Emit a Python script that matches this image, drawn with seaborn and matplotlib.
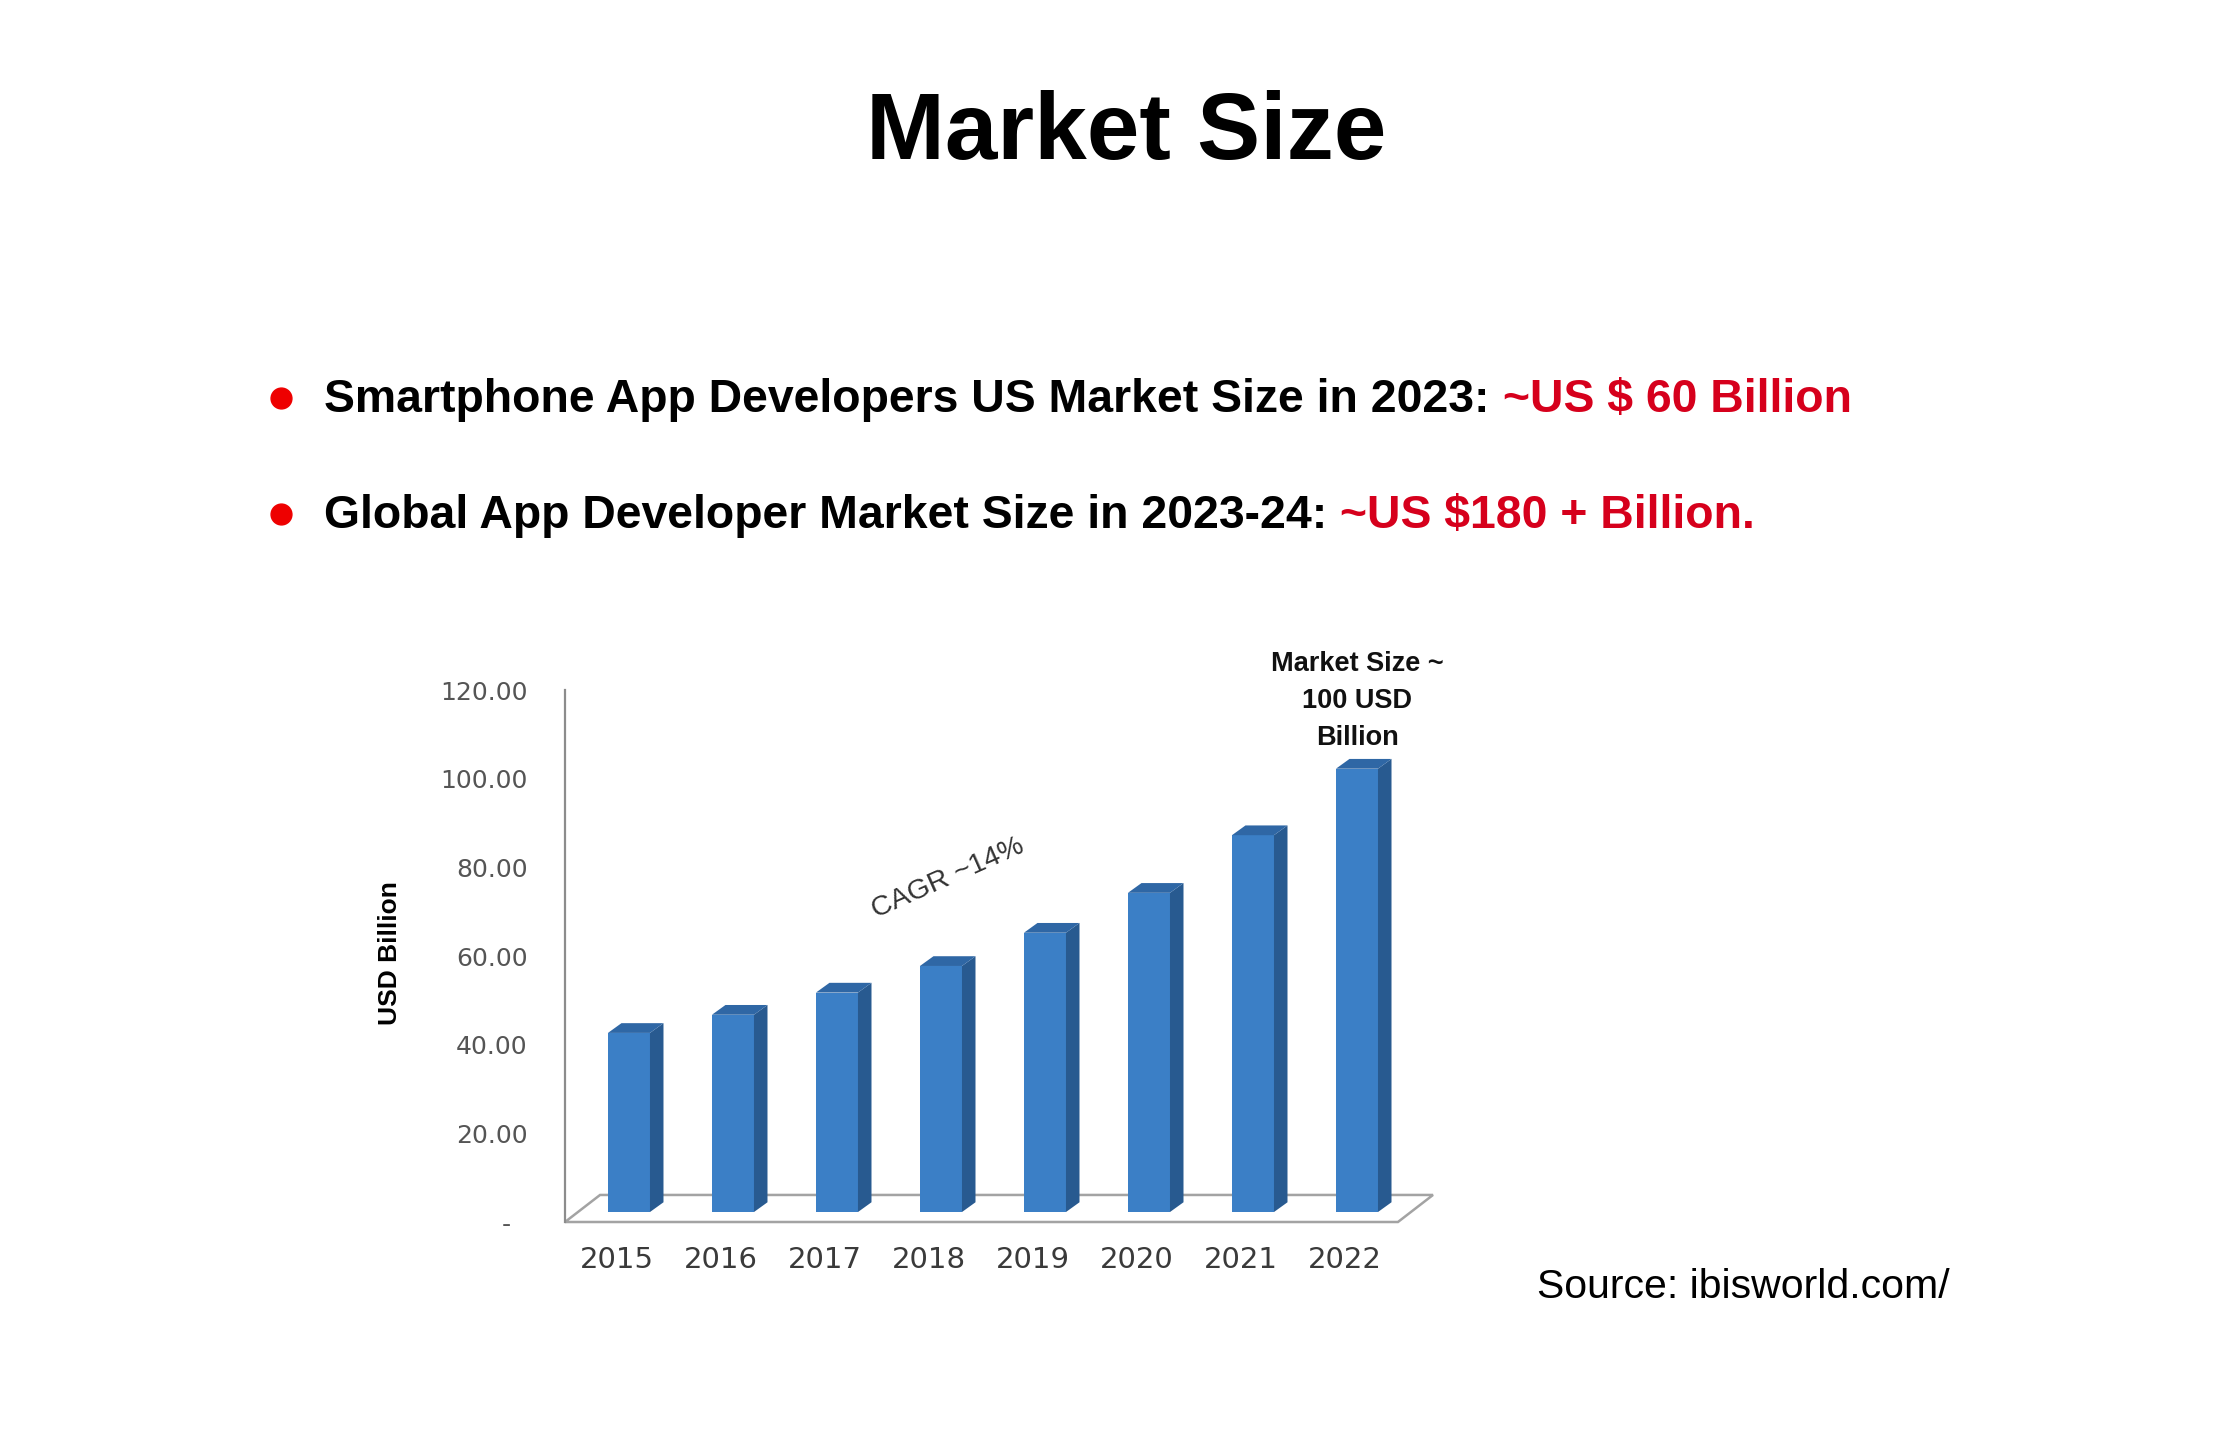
import matplotlib
matplotlib.use("Agg")
import matplotlib.pyplot as plt
import matplotlib.transforms as mtransforms
from matplotlib.patches import Polygon
from matplotlib.lines import Line2D
import seaborn as sns
import pandas as pd

# Data (USD billion)
years = ["2015", "2016", "2017", "2018", "2019", "2020", "2021", "2022"]
market_size = [40.4, 44.5, 49.5, 55.5, 63.0, 72.0, 85.0, 100.0]
y_ticks = [0, 20, 40, 60, 80, 100, 120]
y_tick_labels = ["-  ", "20.00", "40.00", "60.00", "80.00", "100.00", "120.00"]

title = "Market Size"
bullets = [
    ("Smartphone App Developers US Market Size in 2023:", " ~US $ 60 Billion"),
    ("Global App Developer Market Size in 2023-24:", " ~US $180 + Billion."),
]
source = "Source: ibisworld.com/"

FRONT = "#3b7fc6"
SIDE = "#285a90"
TOP = "#2f67a5"
RED = "#d6001c"

W, H = 2230, 1443
sns.set_theme(style="white")
plt.rcParams["font.family"] = ["DejaVu Sans"]

fig = plt.figure(figsize=(W / 100, H / 100), dpi=100)
fig.patch.set_facecolor("white")


def fx(px):
    return px / W


def fy(py):
    return 1 - py / H


# Chart axes placed where the picture has them
ax = fig.add_axes([fx(565), fy(1222), 868 / W, 532 / H])
df = pd.DataFrame({"Year": years, "Size": market_size})
sns.barplot(data=df, x="Year", y="Size", color=FRONT, saturation=1,
            width=0.404, ax=ax, zorder=3, edgecolor="none")

ax.set_xlim(-0.615, 7.731)
ax.set_ylim(0, 120)

# fake 3d: floor, then side + top face of every bar
base = 2.25          # bars stand a bit back on the floor
dx, dy = 0.13, 2.2   # bar depth
fdx, fdy = 0.337, 6.1  # floor depth
x_left, x_right = ax.get_xlim()
floor = Polygon([(x_left, 0), (x_right - fdx, 0), (x_right, fdy), (x_left + fdx, fdy)],
                closed=True, facecolor="white", edgecolor="#a3a3a3", lw=1.8,
                zorder=1, clip_on=False)
ax.add_patch(floor)

for p in ax.patches[:len(years)]:
    h = p.get_height()
    p.set_y(base)
    x0 = p.get_x()
    x1 = x0 + p.get_width()
    y0, y1 = base, base + h
    side = Polygon([(x1, y0), (x1 + dx, y0 + dy), (x1 + dx, y1 + dy), (x1, y1)],
                   closed=True, facecolor=SIDE, edgecolor="none", zorder=3)
    top = Polygon([(x0, y1), (x0 + dx, y1 + dy), (x1 + dx, y1 + dy), (x1, y1)],
                  closed=True, facecolor=TOP, edgecolor="none", zorder=3)
    ax.add_patch(side)
    ax.add_patch(top)

ax.set_yticks(y_ticks)
ax.set_yticklabels(y_tick_labels)
ax.tick_params(axis="y", length=0, pad=27, labelsize=18, labelcolor="#555555")
ax.tick_params(axis="x", length=0, pad=17, labelsize=21, labelcolor="#3a3a3a")
shift = mtransforms.ScaledTranslation(-12 / 100, 0, fig.dpi_scale_trans)
for lab in ax.get_xticklabels():
    lab.set_transform(lab.get_transform() + shift)

ax.set_xlabel("")
ax.set_ylabel("USD Billion", fontsize=19, fontweight="bold", color="black",
              family="Liberation Sans")
ax.yaxis.set_label_coords(-0.188, 0.506)

for s in ["top", "right", "bottom"]:
    ax.spines[s].set_visible(False)
ax.spines["left"].set_color("#8c8c8c")
ax.spines["left"].set_linewidth(1.6)
ax.set_facecolor("white")

# annotations inside the chart
fig.text(fx(948), fy(878), "CAGR ~14%", rotation=24, rotation_mode="anchor",
         ha="center", va="center", fontsize=20.5, color="#333333",
         family="Liberation Sans")
fig.text(fx(1357), fy(701), "Market Size ~\n100 USD\nBillion", ha="center",
         va="center", multialignment="center", linespacing=1.55, fontsize=19.5,
         fontweight="bold", color="#111111", family="Liberation Sans")

# title and bullets
fig.text(fx(1126), fy(159), title, ha="center", va="baseline", fontsize=68,
         fontweight="bold", color="black", family="Liberation Sans")

fig.canvas.draw()
renderer = fig.canvas.get_renderer()
baselines = [412, 528]
for (black_part, red_part), yb in zip(bullets, baselines):
    fig.add_artist(Line2D([fx(281)], [fy(yb - 14)], marker="o", markersize=15,
                          color="#ee0000", transform=fig.transFigure))
    t = fig.text(fx(324), fy(yb), black_part, ha="left", va="baseline",
                 fontsize=33.4, fontweight="bold", color="black",
                 family="Liberation Sans")
    bb = t.get_window_extent(renderer=renderer)
    fig.text(bb.x1 / fig.bbox.width, fy(yb), red_part, ha="left", va="baseline",
             fontsize=33.4, fontweight="bold", color=RED, family="Liberation Sans")

fig.text(fx(1537), fy(1298), source, ha="left", va="baseline", fontsize=29.5,
         color="black", family="Liberation Sans")

fig.savefig("out.png", dpi=100, facecolor="white")
